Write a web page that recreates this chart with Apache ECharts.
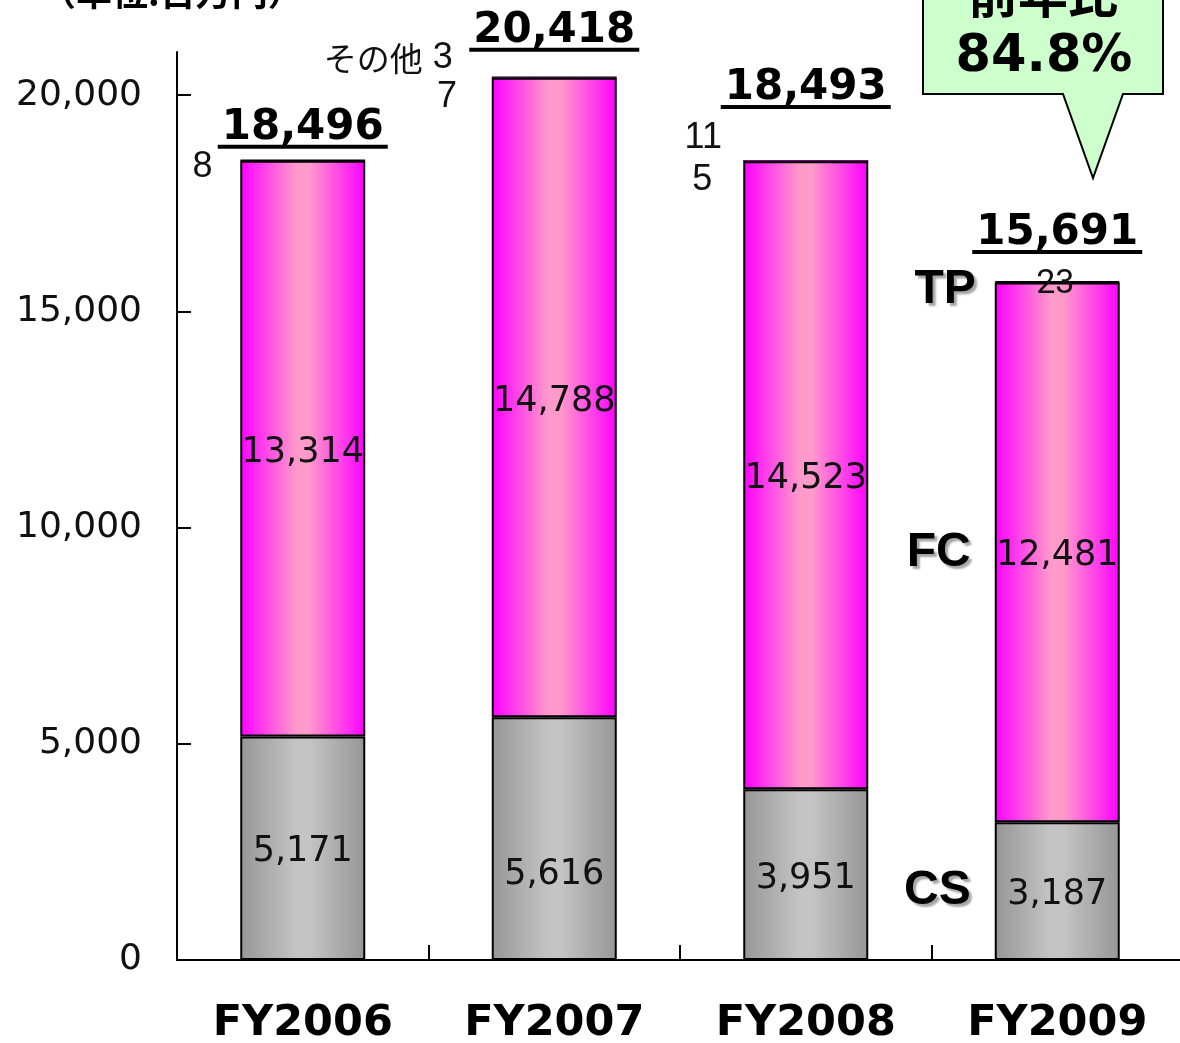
<!DOCTYPE html>
<html>
<head>
<meta charset="utf-8">
<script src="https://cdn.jsdelivr.net/npm/echarts@6/dist/echarts.min.js"></script>
<style>
html,body{margin:0;padding:0;background:#fff;}
#c{width:1180px;height:1043px;}
</style>
</head>
<body>
<div id="c"></div>
<script>
// ---- data ----
const categories = ['FY2006', 'FY2007', 'FY2008', 'FY2009'];
const csValues = [5171, 5616, 3951, 3187];
const fcValues = [13314, 14788, 14523, 12481];
const tpValues = [8, 7, 5, 23];
const otherValues = [null, 3, 11, null];
const totals = [18496, 20418, 18493, 15691];
const yTicks = [0, 5000, 10000, 15000, 20000];
const seriesNames = ['CS', 'FC', 'TP', 'その他'];
const unitLabel = '（単位:百万円）';
const ratioLines = ['前年比', '84.8%'];

const chart = echarts.init(document.getElementById('c'), null, {renderer: 'canvas'});
const fmt = v => v.toLocaleString('en-US');

const grad = (edge, mid) => new echarts.graphic.LinearGradient(0, 0, 1, 0, [
  {offset: 0, color: edge}, {offset: 0.45, color: mid}, {offset: 0.55, color: mid}, {offset: 1, color: edge}
]);

const valueLabel = {
  show: true, position: 'inside', color: '#111', offset: [0, 4],
  fontFamily: 'DejaVu Sans', fontSize: 35,
  formatter: p => fmt(p.value)
};

const smallLabel = {
  show: true, color: '#111', fontFamily: 'Liberation Sans', fontSize: 36,
  align: 'center', verticalAlign: 'middle'
};

// per-item label placements for the tiny segments
const tpLabelPos = [[-37, 8], [-44, 20], [-40, 20], [61, 3]];
const otherLabelPos = [null, [-39, -19], [-40, -22], null];

const nameLabelStyle = {
  show: true, position: 'left',
  fontFamily: 'Liberation Sans', fontWeight: 'bold', fontSize: 48, color: '#000',
  textShadowColor: 'rgba(0,0,0,0.35)', textShadowOffsetX: 3, textShadowOffsetY: 3, textShadowBlur: 2
};

const overlay = (vals, name, extraOffset, dist) => ({
  type: 'bar', name: name + ' ', stack: 'names', barWidth: 125, barGap: '-100%',
  itemStyle: {color: 'rgba(0,0,0,0)', borderWidth: 0},
  silent: true, z: 5,
  data: vals.map((v, i) => i === categories.length - 1
    ? {value: v, label: Object.assign({}, nameLabelStyle, {formatter: name, offset: extraOffset, distance: dist})}
    : {value: v, label: {show: false}})
});

const option = {
  animation: false,
  grid: {left: 177, top: 52, width: 1006, bottom: 83, containLabel: false, outerBoundsMode: 'none'},
  xAxis: {
    type: 'category', data: categories,
    axisLine: {lineStyle: {color: '#000', width: 2}},
    axisTick: {show: true, inside: true, length: 15, lineStyle: {color: '#000', width: 2}},
    axisLabel: {
      color: '#000', fontFamily: 'DejaVu Sans', fontWeight: 'bold', fontSize: 43, margin: 42
    }
  },
  yAxis: {
    type: 'value', min: 0, max: 21000, interval: 5000,
    splitLine: {show: false},
    axisLine: {show: true, lineStyle: {color: '#000', width: 2}},
    axisTick: {show: true, inside: true, length: 14, customValues: yTicks, lineStyle: {color: '#000', width: 2}},
    axisLabel: {
      customValues: yTicks, color: '#111', fontFamily: 'DejaVu Sans', fontSize: 36, margin: 35,
      formatter: v => fmt(v)
    }
  },
  series: [
    {
      type: 'bar', name: seriesNames[0], stack: 'total', barWidth: 125, barGap: '-100%',
      itemStyle: {color: grad('#969696', '#c4c4c4'), borderColor: '#000', borderWidth: 2},
      label: valueLabel,
      data: csValues.map((v, i) => i === 1 ? {value: v, label: {offset: [0, 36]}} : v)
    },
    {
      type: 'bar', name: seriesNames[1], stack: 'total', barWidth: 125, barGap: '-100%',
      itemStyle: {color: grad('#ff00ff', '#ff9acb'), borderColor: '#000', borderWidth: 2},
      label: valueLabel,
      data: fcValues
    },
    {
      type: 'bar', name: seriesNames[2], stack: 'total', barWidth: 125, barGap: '-100%',
      itemStyle: {color: '#ff00ff', borderColor: '#000', borderWidth: 2},
      data: tpValues.map((v, i) => ({
        value: v,
        label: Object.assign({}, smallLabel, {
          position: tpLabelPos[i], formatter: String(v),
          fontFamily: i === 3 ? 'Roboto' : 'Liberation Sans',
          fontSize: i === 3 ? 34 : 36
        })
      }))
    },
    {
      type: 'bar', name: seriesNames[3], stack: 'total', barWidth: 125, barGap: '-100%',
      itemStyle: {color: '#ff00ff', borderColor: '#000', borderWidth: 0},
      data: otherValues.map((v, i) => v == null ? {value: null} : ({
        value: v,
        label: Object.assign({}, smallLabel, {
          position: otherLabelPos[i],
          align: i === 1 ? 'right' : 'center',
          formatter: i === 1 ? '{n|' + seriesNames[3] + '} ' + v : String(v),
          rich: {n: {fontFamily: 'Noto Sans CJK JP', fontSize: 33, color: '#111', textShadowColor: 'rgba(0,0,0,0.3)', textShadowOffsetX: 1, textShadowOffsetY: 1}}
        })
      }))
    },
    overlay(csValues, seriesNames[0], [0, 0], 24),
    overlay(fcValues, seriesNames[1], [0, 0], 24),
    overlay(tpValues, seriesNames[2], [0, 8], 19),
    {
      type: 'scatter', name: 'total', symbolSize: 1, itemStyle: {color: 'rgba(0,0,0,0)', opacity: 1},
      silent: true, z: 6,
      label: {
        show: true, position: 'top', align: 'center', color: '#000', textBorderWidth: 0,
        formatter: p => '{t|' + fmt(p.value) + '}\n{u|}',
        rich: {
          t: {fontFamily: 'DejaVu Sans', fontWeight: 'bold', fontSize: 42, lineHeight: 34, color: '#000', align: 'center', textBorderWidth: 0},
          u: {width: 170, height: 4, lineHeight: 4, backgroundColor: '#000', align: 'center'}
        }
      },
      data: totals.map((v, i) => ({value: v, label: {distance: [11, 25, 51, 27][i]}}))
    }
  ],
  graphic: [
    {
      type: 'text', left: 40, top: -26, z: 10,
      style: {
        text: unitLabel, fontFamily: 'Noto Sans CJK JP', fontWeight: 'bold', fontSize: 36, fill: '#000',
        textShadowColor: 'rgba(0,0,0,0.35)', textShadowOffsetX: 2, textShadowOffsetY: 2
      }
    },
    {
      type: 'polygon', z: 10,
      shape: {points: [[923, -10], [1163, -10], [1163, 94], [1123, 94], [1093, 178], [1063, 94], [923, 94]]},
      style: {fill: '#ccffcc', stroke: '#000', lineWidth: 2}
    },
    {
      type: 'text', z: 11, x: 1043, y: -6,
      style: {text: ratioLines[0], fontFamily: 'Noto Sans CJK JP', fontWeight: 'bold', fontSize: 50, fill: '#000', align: 'center', verticalAlign: 'middle'}
    },
    {
      type: 'text', z: 11, x: 1044, y: 58,
      style: {text: ratioLines[1], fontFamily: 'DejaVu Sans', fontWeight: 'bold', fontSize: 51, fill: '#000', align: 'center', verticalAlign: 'middle'}
    }
  ]
};
chart.setOption(option);
</script>
</body>
</html>
